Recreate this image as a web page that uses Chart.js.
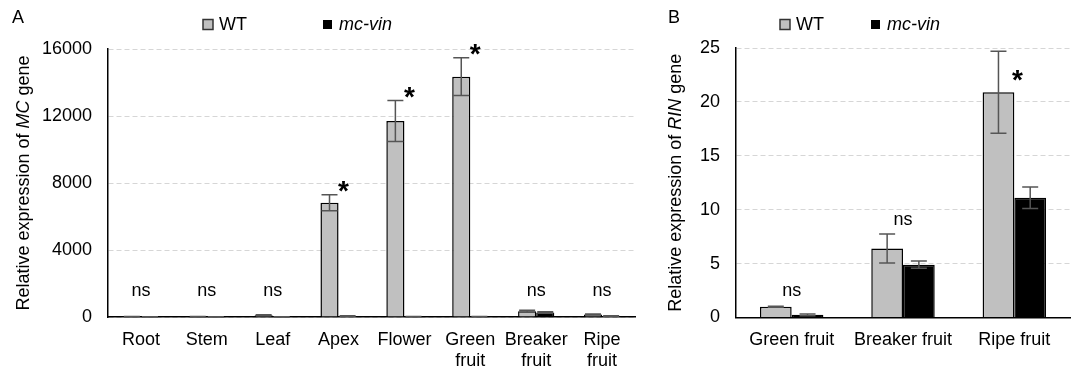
<!DOCTYPE html>
<html>
<head>
<meta charset="utf-8">
<script src="https://cdn.jsdelivr.net/npm/chart.js@4.4.0/dist/chart.umd.min.js"></script>
<style>
  html, body { margin: 0; padding: 0; background: #fff; }
  .panel { position: absolute; top: 0; }
</style>
</head>
<body>
<div class="panel" style="left:0"><canvas id="chartA" width="640" height="372"></canvas></div>
<div class="panel" style="left:640px"><canvas id="chartB" width="432" height="372"></canvas></div>
<script>
// panel A: MC expression across tissues
const tissuesA = ['Root', 'Stem', 'Leaf', 'Apex', 'Flower', ['Green', 'fruit'], ['Breaker', 'fruit'], ['Ripe', 'fruit']];
const wtA = [20, 15, 110, 6820, 11700, 14350, 340, 150];
const wtErrA = [10, 10, 20, 480, 1220, 1130, 60, 30];
const mcA = [10, 10, 5, 60, 20, 20, 270, 60];
const mcErrA = [5, 5, 5, 20, 10, 10, 50, 20];
const sigA = ['ns', 'ns', 'ns', '*', '*', '*', 'ns', 'ns'];
const ticksA = [0, 4000, 8000, 12000, 16000];

// panel B: RIN expression in fruit
const fruitsB = ['Green fruit', 'Breaker fruit', 'Ripe fruit'];
const wtB = [1.0, 6.4, 20.9];
const wtErrB = [0.05, 1.35, 3.8];
const mcB = [0.25, 4.9, 11.1];
const mcErrB = [0.08, 0.33, 1.0];
const sigB = ['ns', 'ns', '*'];
const ticksB = [0, 5, 10, 15, 20, 25];

const FONT = '"Liberation Sans", Arial, sans-serif';
Chart.defaults.font.family = FONT;
Chart.defaults.font.size = 18;
Chart.defaults.color = '#000';

const WT_FILL = '#c0c0c0';
const ERR_COL = '#555';

function drawRich(ctx, parts, size) {
    let total = 0;
    parts.forEach(p => {
        ctx.font = (p[1] ? 'italic ' : '') + size + 'px ' + FONT;
        total += ctx.measureText(p[0]).width;
    });
    let x = -total / 2;
    parts.forEach(p => {
        ctx.font = (p[1] ? 'italic ' : '') + size + 'px ' + FONT;
        ctx.fillText(p[0], x, 0);
        x += ctx.measureText(p[0]).width;
    });
}

const extras = {
    id: 'extras',
    afterDatasetsDraw(chart, args, opts) {
        const ctx = chart.ctx;
        const xs = chart.scales.x, ys = chart.scales.y;
        const area = chart.chartArea;
        ctx.save();

        // error bars
        const errs = opts.errors;
        chart.data.datasets.forEach((ds, di) => {
            const meta = chart.getDatasetMeta(di);
            meta.data.forEach((bar, i) => {
                const v = ds.data[i], e = errs[di][i];
                const yT = ys.getPixelForValue(v + e);
                const yB = ys.getPixelForValue(Math.max(v - e, 0));
                ctx.strokeStyle = ERR_COL;
                ctx.lineWidth = 1.5;
                ctx.beginPath();
                ctx.moveTo(bar.x, yT); ctx.lineTo(bar.x, yB);
                ctx.moveTo(bar.x - 8, yT); ctx.lineTo(bar.x + 8, yT);
                ctx.moveTo(bar.x - 8, yB); ctx.lineTo(bar.x + 8, yB);
                ctx.stroke();
            });
        });

        // significance marks
        ctx.fillStyle = '#000';
        ctx.textBaseline = 'middle';
        opts.sig.forEach((s, i) => {
            const wtBar = chart.getDatasetMeta(0).data[i];
            const topWT = ys.getPixelForValue(chart.data.datasets[0].data[i] + errs[0][i]);
            const topMC = ys.getPixelForValue(chart.data.datasets[1].data[i] + errs[1][i]);
            if (s === 'ns') {
                ctx.font = '18px ' + FONT;
                ctx.textAlign = 'center';
                const y = Math.min(Math.min(topWT, topMC) - 14, area.bottom - 26);
                ctx.fillText('ns', xs.getPixelForValue(i), y);
            } else {
                ctx.font = 'bold 28px ' + FONT;
                ctx.textAlign = 'center';
                ctx.fillText('*', wtBar.x + wtBar.width / 2 + opts.starDx, topWT + opts.starDy);
            }
        });

        // y axis title with italic gene name
        ctx.save();
        ctx.translate(opts.titleX, (area.top + area.bottom) / 2);
        ctx.rotate(-Math.PI / 2);
        ctx.textAlign = 'left';
        ctx.textBaseline = 'middle';
        drawRich(ctx, opts.title, 18);
        ctx.restore();

        // panel letter
        ctx.font = '18px ' + FONT;
        ctx.textAlign = 'left';
        ctx.textBaseline = 'middle';
        ctx.fillText(opts.letter, opts.letterX, 18);

        // legend
        const lg = opts.legend;
        ctx.lineWidth = 1.5;
        ctx.fillStyle = WT_FILL;
        ctx.strokeStyle = '#333';
        ctx.fillRect(lg.wt, 19.5, 10, 10);
        ctx.strokeRect(lg.wt, 19.5, 10, 10);
        ctx.fillStyle = '#000';
        ctx.fillRect(lg.mc, 20, 9, 9);
        ctx.font = '18px ' + FONT;
        ctx.fillText('WT', lg.wt + 16, 25);
        ctx.font = 'italic 18px ' + FONT;
        ctx.fillText('mc-vin', lg.mc + 16, 25);

        ctx.restore();
    }
};

function makeChart(id, labels, wt, mc, cfg) {
    return new Chart(document.getElementById(id), {
        type: 'bar',
        data: {
            labels: labels,
            datasets: [
                { label: 'WT', data: wt, backgroundColor: WT_FILL, borderColor: '#000', borderWidth: 1.5 },
                { label: 'mc-vin', data: mc, backgroundColor: '#000', borderColor: '#000', borderWidth: 1.5 }
            ]
        },
        options: {
            responsive: false,
            animation: false,
            layout: { padding: { top: cfg.top, right: cfg.right, left: 0, bottom: 0 } },
            datasets: { bar: { categoryPercentage: cfg.catPct, barPercentage: 1 } },
            plugins: {
                legend: { display: false },
                tooltip: { enabled: false },
                extras: cfg.extras
            },
            scales: {
                x: {
                    grid: { display: false, drawTicks: false },
                    border: { display: true, color: '#000', width: 1.5 },
                    ticks: { padding: 12, maxRotation: 0, autoSkip: false, font: { size: 18 } },
                    afterFit: s => { s.height = cfg.xHeight; }
                },
                y: {
                    min: 0,
                    max: cfg.ticks[cfg.ticks.length - 1],
                    afterBuildTicks: s => { s.ticks = cfg.ticks.map(v => ({ value: v })); },
                    grid: { color: '#d6d6d6', lineWidth: 1, drawTicks: false },
                    border: { display: true, color: '#000', width: 1.5, dash: [5, 3] },
                    ticks: { padding: 16, font: { size: 18 }, callback: v => String(v) },
                    afterFit: s => { s.width = cfg.yWidth; }
                }
            }
        },
        plugins: [extras]
    });
}

makeChart('chartA', tissuesA, wtA, mcA, {
    top: 49, right: 5, xHeight: 55, yWidth: 108, catPct: 0.55, ticks: ticksA,
    extras: {
        errors: [wtErrA, mcErrA], sig: sigA, starDx: 5, starDy: -2,
        title: [['Relative expression of ', false], ['MC', true], [' gene', false]],
        titleX: 24, letter: 'A', letterX: 12,
        legend: { wt: 203, mc: 323 }
    }
});

makeChart('chartB', fruitsB, wtB, mcB, {
    top: 48, right: 2, xHeight: 54.5, yWidth: 96, catPct: 0.57, ticks: ticksB,
    extras: {
        errors: [wtErrB, mcErrB], sig: sigB, starDx: 3, starDy: 30,
        title: [['Relative expression of ', false], ['RIN', true], [' gene', false]],
        titleX: 36, letter: 'B', letterX: 28,
        legend: { wt: 140, mc: 231 }
    }
});
</script>
</body>
</html>
